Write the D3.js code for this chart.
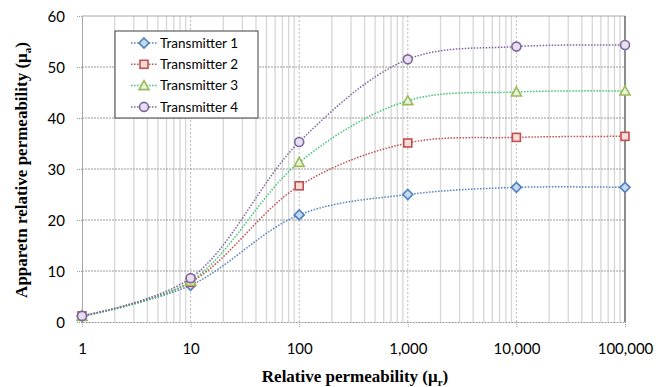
<!DOCTYPE html>
<html>
<head>
<meta charset="utf-8">
<script src="https://cdn.jsdelivr.net/npm/d3@7"></script>
<style>
  body { margin: 0; background: #fff; }
  svg { display: block; }
</style>
</head>
<body>
<div id="chart"></div>
<script>
// data
const mu = [1, 10, 100, 1000, 10000, 100000];
const seriesNames = ["Transmitter 1", "Transmitter 2", "Transmitter 3", "Transmitter 4"];
const t1 = [1.2, 7.2, 21.0, 25.0, 26.4, 26.4];
const t2 = [1.2, 7.8, 26.7, 35.1, 36.2, 36.4];
const t3 = [1.1, 8.0, 31.3, 43.4, 45.1, 45.3];
const t4 = [1.2, 8.6, 35.3, 51.5, 54.0, 54.3];
const yTicks = [0, 10, 20, 30, 40, 50, 60];

const W = 664, H = 387;
const m = {left: 82, right: 39, top: 16, bottom: 65};

const svg = d3.select('#chart').append('svg')
  .attr('width', W).attr('height', H);

const x = d3.scaleLog().domain([1, 100000]).range([m.left, W - m.right]);
const y = d3.scaleLinear().domain([0, 60]).range([H - m.bottom, m.top]);

const styles = [
  {line: '#4F81BD', stroke: '#4F81BD', fill: '#C6D9F1', shape: 'diamond'},
  {line: '#C0504D', stroke: '#C0504D', fill: '#F8DCDB', shape: 'square'},
  {line: '#3CC86E', stroke: '#9BBB59', fill: '#EAF1DD', shape: 'triangle'},
  {line: '#8064A2', stroke: '#8064A2', fill: '#E5E0EC', shape: 'circle'}
];
const data = [t1, t2, t3, t4];

// minor vertical grid
const minor = [];
for (let d = 1; d < 100000; d *= 10) for (let k = 2; k <= 9; k++) minor.push(d * k);
svg.append('g').selectAll('line').data(minor).join('line')
  .attr('x1', d => x(d)).attr('x2', d => x(d))
  .attr('y1', y(60)).attr('y2', y(0))
  .attr('stroke', '#D6D6D6').attr('stroke-width', 1.3);

// major vertical grid
svg.append('g').selectAll('line').data(mu.slice(1, -1)).join('line')
  .attr('x1', d => x(d)).attr('x2', d => x(d))
  .attr('y1', y(60)).attr('y2', y(0))
  .attr('stroke', '#BBBBBB').attr('stroke-width', 1).attr('stroke-dasharray', '2,2');

// horizontal grid
svg.append('g').selectAll('line').data(yTicks.slice(1, -1)).join('line')
  .attr('x1', x(1)).attr('x2', x(100000))
  .attr('y1', d => y(d)).attr('y2', d => y(d))
  .attr('stroke', '#9A9A9A').attr('stroke-width', 1).attr('stroke-dasharray', '2,1');

// top border and right border
svg.append('line').attr('x1', x(1)).attr('x2', x(100000)).attr('y1', y(60)).attr('y2', y(60))
  .attr('stroke', '#A6A6A6');
svg.append('line').attr('x1', x(100000)).attr('x2', x(100000)).attr('y1', y(60)).attr('y2', y(0))
  .attr('stroke', '#404040').attr('stroke-width', 1.2);

// axes
const xAxis = d3.axisBottom(x).tickValues(mu).tickSize(5).tickSizeOuter(0)
  .tickFormat(d3.format(','));
const gx = svg.append('g').attr('transform', `translate(0,${y(0)})`).call(xAxis);
gx.select('.domain').attr('stroke', '#9A9A9A').attr('stroke-dasharray', '2,1');
gx.selectAll('.tick line').attr('stroke', '#9A9A9A').attr('stroke-dasharray', '1,1');
gx.selectAll('text').attr('dy', null).attr('y', 32)
  .attr('font-family', 'Lato, "Open Sans", sans-serif').attr('font-size', 15).attr('fill', '#000');

const yAxis = d3.axisLeft(y).tickValues(yTicks).tickSize(5).tickSizeOuter(0);
const gy = svg.append('g').attr('transform', `translate(${x(1)},0)`).call(yAxis);
gy.select('.domain').attr('stroke', '#A6A6A6');
gy.selectAll('.tick line').attr('stroke', '#9A9A9A').attr('stroke-dasharray', '1,1');
gy.selectAll('text').attr('x', -17).attr('dy', '0.35em')
  .attr('font-family', 'Lato, "Open Sans", sans-serif').attr('font-size', 15).attr('fill', '#000');

// series lines
const line = d3.line().x((d, i) => x(mu[i])).y(d => y(d)).curve(d3.curveCatmullRom);
svg.append('g').selectAll('path').data(data).join('path')
  .attr('d', d => line(d))
  .attr('fill', 'none')
  .attr('stroke', (d, i) => styles[i].line)
  .attr('stroke-width', 1.5)
  .attr('stroke-dasharray', '1.5,1.5');

function marker(g, s) {
  if (s.shape === 'diamond') g.append('path').attr('d', 'M0,-5L5,0L0,5L-5,0Z');
  else if (s.shape === 'square') g.append('rect').attr('x', -4).attr('y', -4).attr('width', 8).attr('height', 8);
  else if (s.shape === 'triangle') g.append('path').attr('d', 'M0,-5L5,4L-5,4Z');
  else g.append('circle').attr('r', 4.5);
  g.selectAll('*').attr('fill', s.fill).attr('stroke', s.stroke).attr('stroke-width', 1.6);
}

data.forEach((vals, i) => {
  const g = svg.append('g');
  vals.forEach((v, j) => {
    const mg = g.append('g').attr('transform', `translate(${x(mu[j])},${y(v)})`);
    marker(mg, styles[i]);
  });
});

// legend
const lg = svg.append('g').attr('transform', 'translate(115,31)');
lg.append('rect').attr('width', 143).attr('height', 87)
  .attr('fill', '#fff').attr('stroke', '#404040').attr('stroke-width', 1);
seriesNames.forEach((name, i) => {
  const row = lg.append('g').attr('transform', `translate(0,${12 + i * 21.3})`);
  row.append('line').attr('x1', 16).attr('x2', 42).attr('y1', 0).attr('y2', 0)
    .attr('stroke', styles[i].line).attr('stroke-width', 1.5).attr('stroke-dasharray', '1.5,1.5');
  marker(row.append('g').attr('transform', 'translate(29,0)'), styles[i]);
  row.append('text').attr('x', 45).attr('dy', '0.35em').text(name)
    .attr('font-family', 'Lato, "Open Sans", sans-serif').attr('font-size', 13.5).attr('fill', '#000');
});

// axis titles
svg.append('text').attr('x', 355).attr('y', 382).attr('text-anchor', 'middle')
  .attr('font-family', '"Liberation Serif", "Times New Roman", serif')
  .attr('font-weight', 'bold').attr('font-size', 17)
  .html('Relative permeability (μ<tspan font-size="11" dy="4">r</tspan><tspan dy="-4">)</tspan>');

svg.append('text').attr('transform', 'translate(27,170) rotate(-90)').attr('text-anchor', 'middle')
  .attr('font-family', '"Liberation Serif", "Times New Roman", serif')
  .attr('font-weight', 'bold').attr('font-size', 17)
  .html('Apparetn relative permeability (μ<tspan font-size="11" dy="4">a</tspan><tspan dy="-4">)</tspan>');
</script>
</body>
</html>
